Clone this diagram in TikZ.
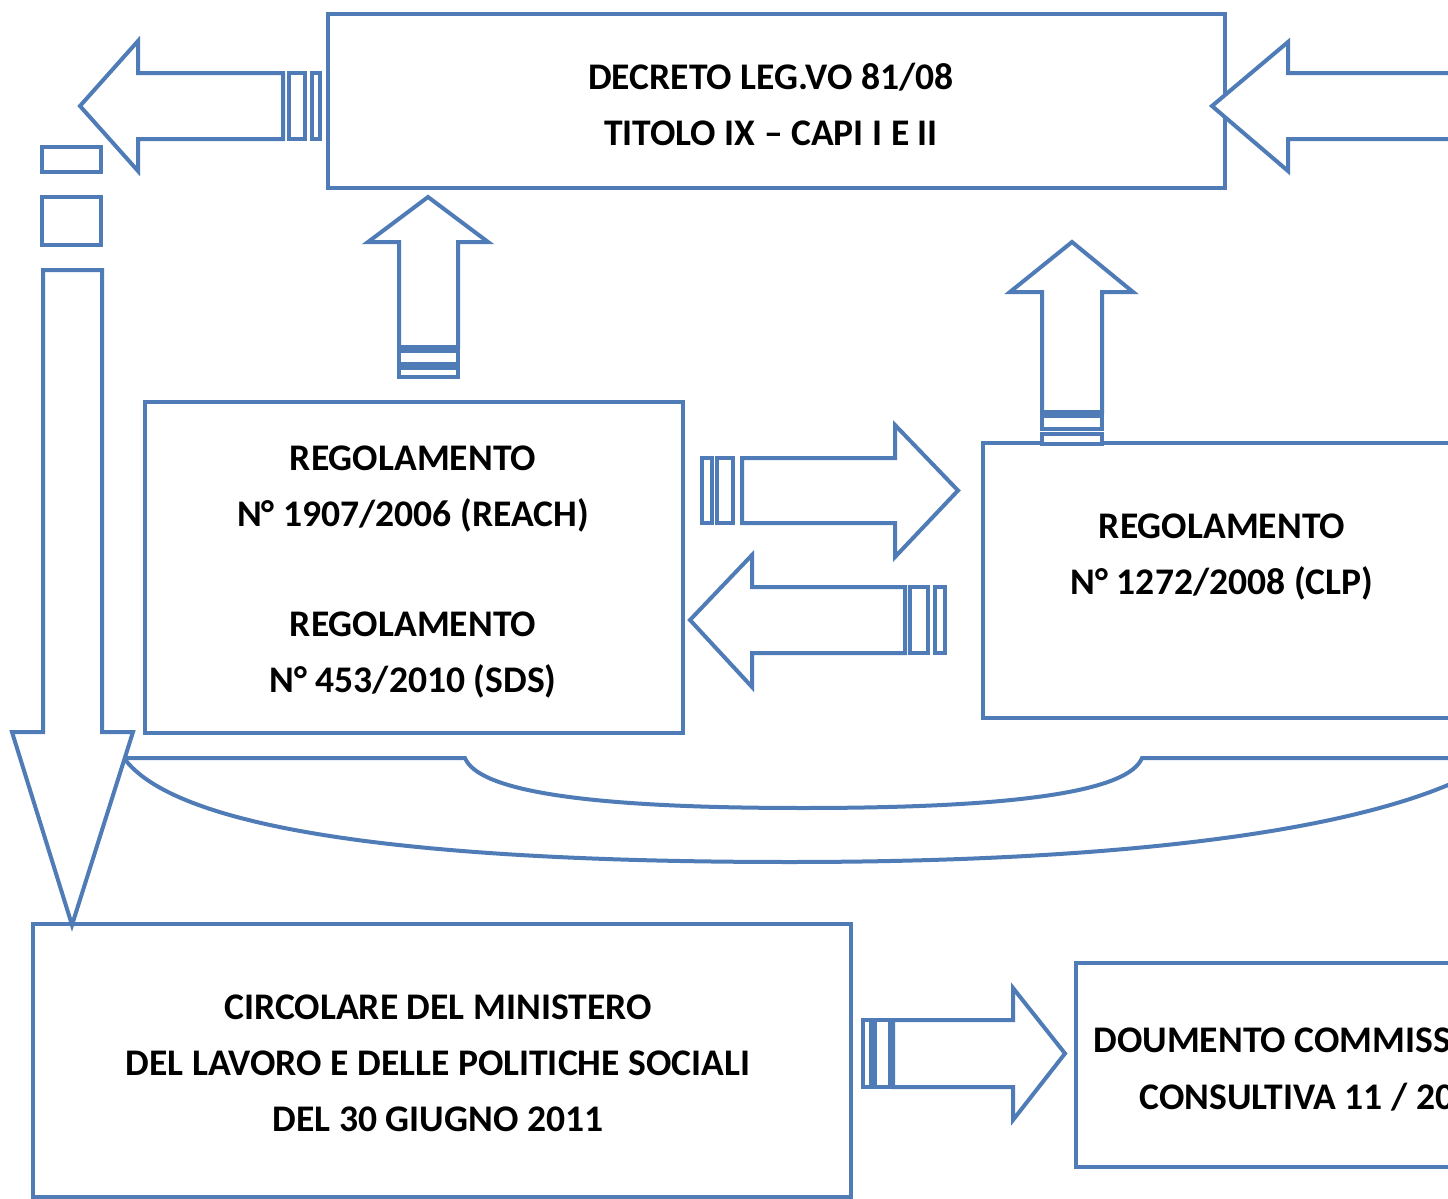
\documentclass[tikz,border=0pt]{standalone}
\usepackage{fontspec}
\setmainfont{Carlito}
\definecolor{ln}{RGB}{79,124,182}
\begin{document}
\begin{tikzpicture}[x=0.5pt,y=-0.5pt,
  blk/.style={draw=ln, line width=2pt, fill=white, line join=miter},
  rib/.style={draw=ln, line width=2pt},
  box/.style={draw=ln, line width=2pt, fill=white, inner sep=0pt},
  lbl/.style={font=\fontsize{18.8}{28}\selectfont\bfseries, align=center, inner sep=0pt, text=black}]
\useasboundingbox (0,0) rectangle (1448,1199);
\clip (0,0) rectangle (1448,1199);
\fill[white] (0,0) rectangle (1448,1199);

% boxes
\node[box, minimum width=448.5pt, minimum height=87pt] (dec) at (776.5,101) {};
\node[box, minimum width=269pt, minimum height=165.5pt] (reach) at (414,567.5) {};
\node[box, minimum width=238.5pt, minimum height=137.5pt] (clp) at (1221.5,580.5) {};
\node[box, minimum width=409pt, minimum height=136.5pt] (circ) at (442,1060.5) {};
\node[box, minimum width=212pt, minimum height=102pt] (dou) at (1288,1065) {};

% labels
\node[lbl] (tdec) at (771,104) {DECRETO LEG.VO 81/08\\TITOLO IX -- CAPI I E II};
\node[lbl] (treach) at (413,572) {REGOLAMENTO\\N° 1907/2006 (REACH)\\[27pt]REGOLAMENTO\\N° 453/2010 (SDS)};
\node[lbl] (tclp) at (1222,557) {REGOLAMENTO\\N° 1272/2008 (CLP)};
\node[lbl] (tcirc) at (438,1063) {CIRCOLARE DEL MINISTERO\\DEL LAVORO E DELLE POLITICHE SOCIALI\\DEL 30 GIUGNO 2011};
\node[lbl, anchor=base west] (tdou1) at (1093,1052) {DOUMENTO COMMISS};
\node[lbl, anchor=base west] (tdou2) at (1139,1109) {CONSULTIVA 11 / 20};

% ribbon
\draw[rib] (118,758) -- (465,758) .. controls (478,790) and (580,808) .. (803,808)
  .. controls (1026,808) and (1129,790) .. (1142,758) -- (1470,758);
\draw[rib] (120,752) .. controls (170,840) and (480,862) .. (790,862)
  .. controls (1100,862) and (1350,835) .. (1470,775);

% A: top-left arrow pointing left
\draw[blk] (283,73) -- (138,73) -- (138,41) -- (80,106) -- (138,171) -- (138,139) -- (283,139) -- cycle;
\draw[blk] (289,73) rectangle (305,139);
\draw[blk] (312,73) rectangle (320,139);

% B: top-right arrow pointing left into DECRETO
\draw[blk] (1470,73) -- (1288,73) -- (1288,42) -- (1212,106) -- (1288,171) -- (1288,139) -- (1470,139) -- cycle;

% C: up arrow REACH -> DECRETO
\draw[blk] (399,347) -- (399,242) -- (368,242) -- (428,197) -- (488,242) -- (458,242) -- (458,347) -- cycle;
\draw[blk] (399,351) rectangle (458,364);
\draw[blk] (399,368) rectangle (458,377);

% D: up arrow CLP -> DECRETO
\draw[blk] (1042,412) -- (1042,292) -- (1010,292) -- (1072,242) -- (1133,292) -- (1102,292) -- (1102,412) -- cycle;
\draw[blk] (1042,416) rectangle (1102,429);
\draw[blk] (1042,434) rectangle (1102,444);

% E: REACH -> CLP
\draw[blk] (742,458) -- (895,458) -- (895,425) -- (958,490.5) -- (895,557) -- (895,523) -- (742,523) -- cycle;
\draw[blk] (717,458) rectangle (733,523);
\draw[blk] (702,458) rectangle (712,523);

% F: CLP -> REACH
\draw[blk] (905,587) -- (752,587) -- (752,555) -- (690,620) -- (752,687) -- (752,653) -- (905,653) -- cycle;
\draw[blk] (910,587) rectangle (928,653);
\draw[blk] (935,587) rectangle (945,653);

% G: CIRCOLARE -> DOUMENTO
\draw[blk] (893,1020) -- (1013,1020) -- (1013,988) -- (1065,1053.5) -- (1013,1120) -- (1013,1087) -- (893,1087) -- cycle;
\draw[blk] (875,1020) rectangle (890,1087);
\draw[blk] (863,1020) rectangle (871,1087);

% H: long down arrow
\draw[blk] (43,270) -- (43,732) -- (12,732) -- (72,925) -- (133,732) -- (102,732) -- (102,270) -- cycle;
\draw[blk] (42,197) rectangle (101,245);
\draw[blk] (42,147) rectangle (101,172);
\end{tikzpicture}
\end{document}
